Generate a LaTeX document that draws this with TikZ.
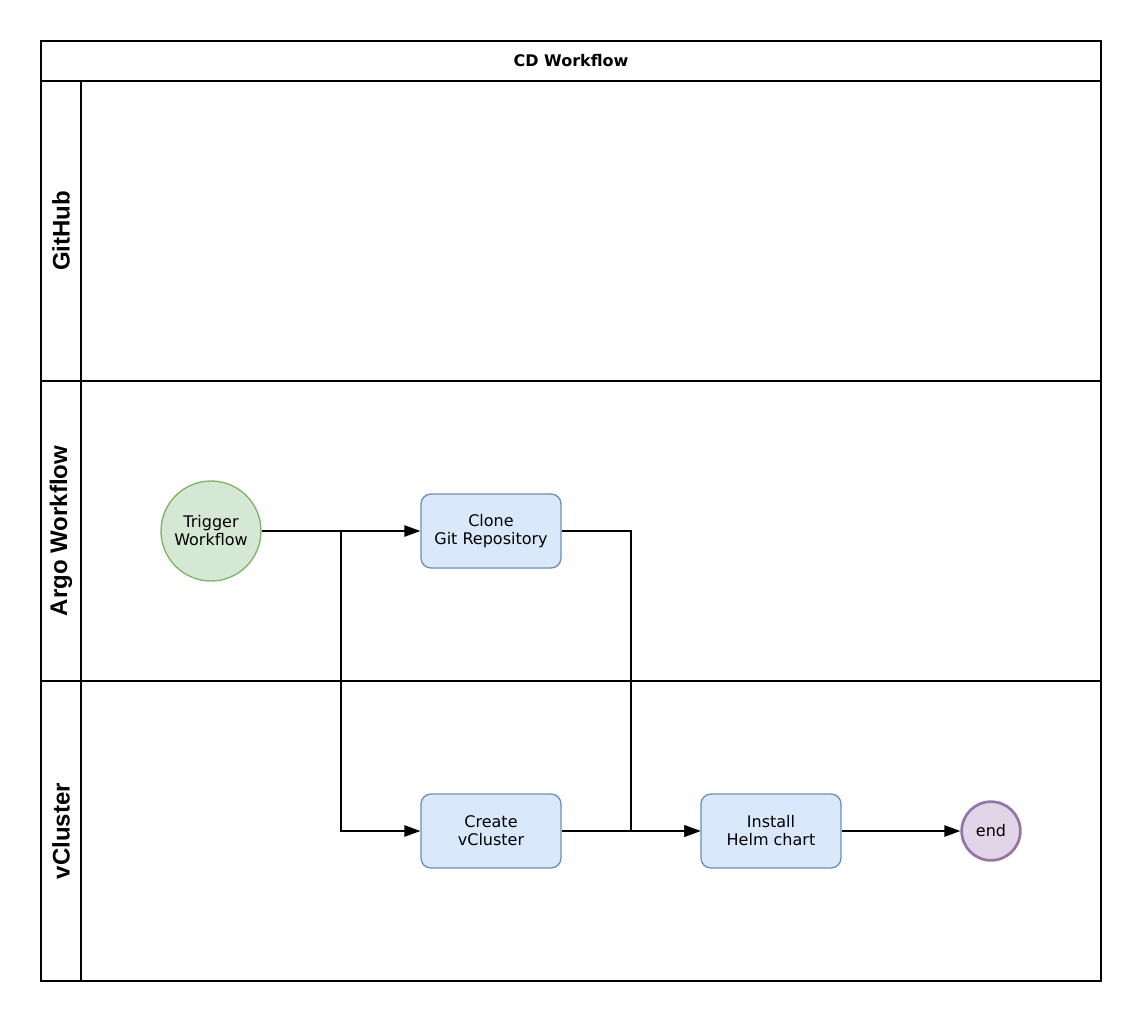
\documentclass[tikz,border=0pt]{standalone}
\usepackage{fontspec}
\setmainfont{DejaVu Sans}
\newfontfamily\lanefont{Liberation Sans}
\usetikzlibrary{arrows.meta, positioning}
\definecolor{mGreenFill}{HTML}{D5E8D4}
\definecolor{mGreenLine}{HTML}{82B366}
\definecolor{mBlueFill}{HTML}{DAE8FC}
\definecolor{mBlueLine}{HTML}{6C8EBF}
\definecolor{mPurpleFill}{HTML}{E1D5E7}
\definecolor{mPurpleLine}{HTML}{9673A6}

\begin{document}
\begin{tikzpicture}[x=0.75pt, y=-0.75pt,
      pool/.style={draw, line width=1.2pt},
      lanelbl/.style={rotate=90, font=\lanefont\bfseries\fontsize{18}{20}\selectfont},
      task/.style={draw=mBlueLine, fill=mBlueFill, rounded corners=7.5pt, line width=1pt,
                   minimum width=105pt, minimum height=55.5pt, align=center,
                   inner sep=1pt, font=\fontsize{12}{13.5}\selectfont},
      arr/.style={-{Triangle[length=12pt, width=8.5pt]}, line width=1.2pt}]
    \useasboundingbox (0,0) rectangle (1142,1022);
    % pool and lanes
    \draw[pool] (41,41) rectangle (1101,981);
    \draw[pool] (41,81) -- (1101,81);
    \draw[pool] (81,81) -- (81,981);
    \draw[pool] (41,381) -- (1101,381);
    \draw[pool] (41,681) -- (1101,681);
    \node[font=\bfseries\fontsize{12}{14}\selectfont] (title) at (571,61) {CD Workflow};
    \node[lanelbl] (github) at (61,231) {GitHub};
    \node[lanelbl] (argo)   at (61,531) {Argo Workflow};
    \node[lanelbl] (vclus)  at (61,831) {vCluster};
    % events and tasks
    \node[circle, draw=mGreenLine, fill=mGreenFill, line width=1pt, minimum size=75pt,
          align=center, inner sep=0pt, font=\fontsize{12}{13.5}\selectfont]
          (trig) at (211,531) {Trigger\\Workflow};
    \node[task] (clone)   at (491,531) {Clone\\Git Repository};
    \node[task] (create)  at (491,831) {Create\\vCluster};
    \node[task] (install) at (771,831) {Install\\Helm chart};
    \node[circle, draw=mPurpleLine, fill=mPurpleFill, line width=2pt, minimum size=44pt,
          inner sep=0pt, font=\fontsize{12}{13.5}\selectfont]
          (stop) at (991,831) {end};
    \coordinate (fork) at (341,531);
    \coordinate (join) at (631,531);
    \draw[arr] (trig) -- (clone);
    \draw[arr] (fork) |- (create);
    \draw[arr] (clone) -- (join) |- (install);
    \draw[arr] (create) -- (install);
    \draw[arr] (install) -- (stop);
  \end{tikzpicture}
\end{document}
